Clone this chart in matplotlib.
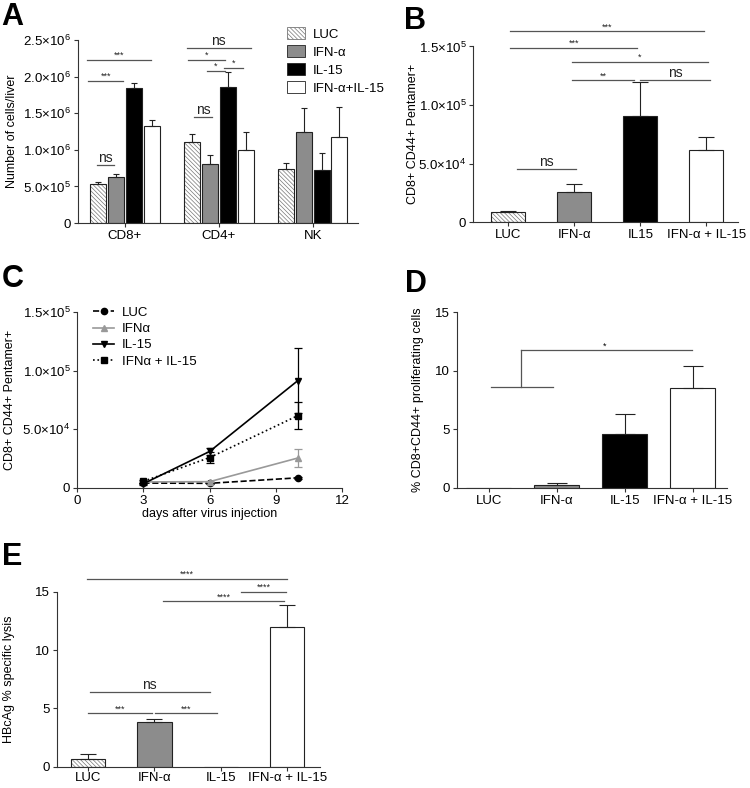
import numpy as np
import matplotlib
matplotlib.use("Agg")
import matplotlib.pyplot as plt
from matplotlib.ticker import FuncFormatter
from matplotlib.patches import Patch

plt.rcParams['font.family'] = ['Liberation Sans', 'DejaVu Sans']
plt.rcParams['mathtext.fontset'] = 'custom'
plt.rcParams['mathtext.rm'] = 'Liberation Sans'
plt.rcParams['mathtext.it'] = 'Liberation Sans'
plt.rcParams['axes.linewidth'] = 0.8
plt.rcParams['axes.edgecolor'] = '#333333'
plt.rcParams['xtick.color'] = '#333333'
plt.rcParams['ytick.color'] = '#333333'
plt.rcParams['xtick.labelcolor'] = 'black'
plt.rcParams['ytick.labelcolor'] = 'black'
plt.rcParams['hatch.linewidth'] = 0.5

# ---- data ----
treatments = ['LUC', 'IFN-α', 'IL-15', 'IFN-α+IL-15']

# A: cells per liver
a_groups = ['CD8+', 'CD4+', 'NK']
a_mean = {
    'LUC':         [0.53e6, 1.11e6, 0.74e6],
    'IFN-α':       [0.63e6, 0.81e6, 1.25e6],
    'IL-15':       [1.84e6, 1.86e6, 0.72e6],
    'IFN-α+IL-15': [1.32e6, 1.00e6, 1.18e6],
}
a_err = {
    'LUC':         [0.035e6, 0.11e6, 0.08e6],
    'IFN-α':       [0.035e6, 0.12e6, 0.32e6],
    'IL-15':       [0.08e6, 0.21e6, 0.24e6],
    'IFN-α+IL-15': [0.09e6, 0.25e6, 0.40e6],
}
a_sig = [(-0.40, 0.28, 2.23e6, '***'), (-0.39, -0.02, 1.94e6, '***'),
         (-0.30, -0.12, 0.80e6, 'ns'), (0.66, 1.34, 2.39e6, 'ns'),
         (0.67, 1.07, 2.23e6, '*'), (0.87, 1.07, 2.08e6, '*'),
         (1.06, 1.26, 2.12e6, '*'), (0.74, 0.93, 1.45e6, 'ns')]

# B: pentamer+ cells
b_labels = ['LUC', 'IFN-α', 'IL15', 'IFN-α + IL-15']
b_mean = [8.8e3, 25.5e3, 91e3, 61.5e3]
b_err = [1.2e3, 7.5e3, 29e3, 11.3e3]
b_sig = [(0.03, 2.96, 163e3, '***'), (0.03, 1.95, 149e3, '***'),
         (0.97, 3.02, 137e3, '*'), (0.97, 1.90, 121e3, '**'),
         (2.00, 3.05, 121e3, 'ns'), (0.14, 1.02, 45.5e3, 'ns')]

# C: time course
c_days = [3, 6, 10]
c_series = ['LUC', 'IFNα', 'IL-15', 'IFNα + IL-15']
c_mean = {
    'LUC':          [4.0e3, 3.8e3, 8.5e3],
    'IFNα':         [5.0e3, 5.2e3, 25.4e3],
    'IL-15':        [3.5e3, 31e3, 91.5e3],
    'IFNα + IL-15': [5.5e3, 25.8e3, 61.6e3],
}
c_err = {
    'LUC':          [0.5e3, 0.5e3, 0.8e3],
    'IFNα':         [0.5e3, 0.6e3, 7.9e3],
    'IL-15':        [1.0e3, 3.0e3, 28e3],
    'IFNα + IL-15': [1.0e3, 5.0e3, 11.3e3],
}

# D: proliferating cells
d_labels = ['LUC', 'IFN-α', 'IL-15', 'IFN-α + IL-15']
d_mean = [0.0, 0.23, 4.6, 8.5]
d_err = [0.0, 0.22, 1.73, 1.9]

# E: specific lysis
e_labels = ['LUC', 'IFN-α', 'IL-15', 'IFN-α + IL-15']
e_mean = [0.68, 3.8, 0.0, 12.0]
e_err = [0.37, 0.32, 0.0, 1.85]
e_sig = [(-0.02, 3.00, 16.1, '****'), (2.31, 2.99, 14.97, '****'),
         (1.13, 2.96, 14.18, '****'), (0.03, 1.83, 6.41, 'ns'),
         (0.00, 0.96, 4.58, '***'), (1.01, 1.94, 4.58, '***')]

fills = ['white', '#8c8c8c', 'black', 'white']
SIG = '#555555'
HATCH = '\\\\\\\\\\\\\\\\'


def sci(v, pos):
    if v == 0:
        return '0'
    e = int(np.floor(np.log10(v) + 1e-9))
    return '%.1f×10$^{%d}$' % (v / 10 ** e, e)


def style(ax):
    for s in ['top', 'right']:
        ax.spines[s].set_visible(False)
    ax.tick_params(length=3, width=0.8, labelsize=9.5, pad=2)


def one_bar(ax, xi, hi, ei, width, k, lw=0.8, cap=3):
    if k == 0:
        ax.bar(xi, hi, width, color='white', edgecolor='#777777',
               hatch=HATCH, linewidth=0)
        ax.bar(xi, hi, width, fill=False, edgecolor='#222222', linewidth=lw)
    else:
        ax.bar(xi, hi, width, color=fills[k], edgecolor='#222222', linewidth=lw)
    if ei > 0:
        ax.errorbar(xi, hi, yerr=[[0], [ei]], fmt='none', ecolor='#222222',
                    elinewidth=lw, capsize=cap, capthick=lw)


def draw_bars(ax, x, h, err, width, cap=3):
    for k, (xi, hi, ei) in enumerate(zip(x, h, err)):
        one_bar(ax, xi, hi, ei, width, k, cap=cap)


def sig(ax, x0, x1, y, t, fs_star=6.5, fs_ns=10):
    ax.plot([x0, x1], [y, y], color=SIG, lw=0.9, clip_on=False)
    fs = fs_ns if t == 'ns' else fs_star
    ax.text((x0 + x1) / 2, y, t, ha='center', va='bottom', fontsize=fs,
            color='#222222', clip_on=False)


fig = plt.figure(figsize=(7.5, 7.88), dpi=100)

# ---- A ----
axA = fig.add_axes([0.104, 0.717, 0.373, 0.232])
style(axA)
step, w = 0.19, 0.17
for k, t in enumerate(treatments):
    xs = np.arange(len(a_groups)) + (k - 1.5) * step
    for xi, hi, ei in zip(xs, a_mean[t], a_err[t]):
        one_bar(axA, xi, hi, ei, w, k, cap=2.5)
axA.set_xlim(-0.5, 2.48)
axA.set_ylim(0, 2.5e6)
axA.set_yticks(np.arange(0, 2.51e6, 0.5e6))
axA.yaxis.set_major_formatter(FuncFormatter(sci))
axA.set_xticks(range(3))
axA.set_xticklabels(a_groups)
axA.set_ylabel('Number of cells/liver', fontsize=9)
axA.yaxis.set_label_coords(-0.215, 0.5)
for s in a_sig:
    sig(axA, *s)
handles = [Patch(facecolor='white', edgecolor='#777777', hatch=HATCH, linewidth=0.6),
           Patch(facecolor=fills[1], edgecolor='#222222', linewidth=0.6),
           Patch(facecolor=fills[2], edgecolor='#222222', linewidth=0.6),
           Patch(facecolor=fills[3], edgecolor='#222222', linewidth=0.6)]
axA.legend(handles, treatments, loc='upper left', bbox_to_anchor=(0.73, 1.1),
           frameon=False, fontsize=9.5, handlelength=1.3, handleheight=1.0,
           labelspacing=0.35, handletextpad=0.6, borderaxespad=0)

# ---- B ----
axB = fig.add_axes([0.631, 0.718, 0.353, 0.223])
style(axB)
xb = np.arange(4)
draw_bars(axB, xb, b_mean, b_err, 0.52, cap=6)
axB.set_xlim(-0.53, 3.48)
axB.set_ylim(0, 1.5e5)
axB.set_yticks([0, 5e4, 1e5, 1.5e5])
axB.yaxis.set_major_formatter(FuncFormatter(sci))
axB.set_xticks(xb)
axB.set_xticklabels(b_labels)
axB.set_ylabel('CD8+ CD44+ Pentamer+', fontsize=9)
axB.yaxis.set_label_coords(-0.205, 0.5)
for s in b_sig:
    sig(axB, *s)

# ---- C ----
axC = fig.add_axes([0.103, 0.381, 0.353, 0.223])
style(axC)
c_style = {
    'LUC':          dict(color='black', ls='--', marker='o'),
    'IFNα':         dict(color='#999999', ls='-', marker='^'),
    'IL-15':        dict(color='black', ls='-', marker='v'),
    'IFNα + IL-15': dict(color='black', ls=':', marker='s'),
}
for name in c_series:
    st = c_style[name]
    axC.errorbar(c_days, c_mean[name], yerr=c_err[name], fmt='none',
                 ecolor=st['color'], elinewidth=0.9, capsize=3, capthick=0.9)
    axC.plot(c_days, c_mean[name], color=st['color'], ls=st['ls'],
             marker=st['marker'], ms=4.5, lw=1.2, label=name)
axC.set_xlim(0, 12)
axC.set_ylim(0, 1.5e5)
axC.set_xticks([0, 3, 6, 9, 12])
axC.set_yticks([0, 5e4, 1e5, 1.5e5])
axC.yaxis.set_major_formatter(FuncFormatter(sci))
axC.set_xlabel('days after virus injection', fontsize=9, labelpad=1)
axC.set_ylabel('CD8+ CD44+ Pentamer+', fontsize=9)
axC.yaxis.set_label_coords(-0.23, 0.5)
axC.legend(loc='upper left', bbox_to_anchor=(0.04, 1.06), frameon=False,
           fontsize=9.5, handlelength=1.6, labelspacing=0.3, borderaxespad=0,
           handletextpad=0.6)

# ---- D ----
axD = fig.add_axes([0.609, 0.381, 0.36, 0.223])
style(axD)
xd = np.arange(4)
draw_bars(axD, xd, d_mean, d_err, 0.66, cap=7)
axD.set_xlim(-0.47, 3.5)
axD.set_ylim(0, 15)
axD.set_yticks([0, 5, 10, 15])
axD.set_xticks(xd)
axD.set_xticklabels(d_labels)
axD.set_ylabel('% CD8+CD44+ proliferating cells', fontsize=9)
axD.yaxis.set_label_coords(-0.12, 0.5)
axD.plot([0.04, 0.95], [8.6, 8.6], color=SIG, lw=0.9)
axD.plot([0.48, 0.48], [8.6, 11.73], color=SIG, lw=0.9)
axD.plot([0.48, 2.99], [11.73, 11.73], color=SIG, lw=0.9)
axD.text(1.7, 11.73, '*', ha='center', va='bottom', fontsize=6.5)

# ---- E ----
axE = fig.add_axes([0.076, 0.027, 0.351, 0.222])
style(axE)
axE.tick_params(axis='x', pad=1)
xe = np.arange(4)
draw_bars(axE, xe, e_mean, e_err, 0.52, cap=6)
axE.set_xlim(-0.47, 3.5)
axE.set_ylim(0, 15)
axE.set_yticks([0, 5, 10, 15])
axE.set_xticks(xe)
axE.set_xticklabels(e_labels)
axE.set_ylabel('HBcAg % specific lysis', fontsize=9)
axE.yaxis.set_label_coords(-0.16, 0.5)
for s in e_sig:
    sig(axE, *s)

for lab, x, y in [('A', 0.002, 0.997), ('B', 0.538, 0.993), ('C', 0.002, 0.665),
                  ('D', 0.540, 0.658), ('E', 0.002, 0.312)]:
    fig.text(x, y, lab, fontsize=22, fontweight='bold', va='top', ha='left')

fig.savefig('out.png', dpi=100)
